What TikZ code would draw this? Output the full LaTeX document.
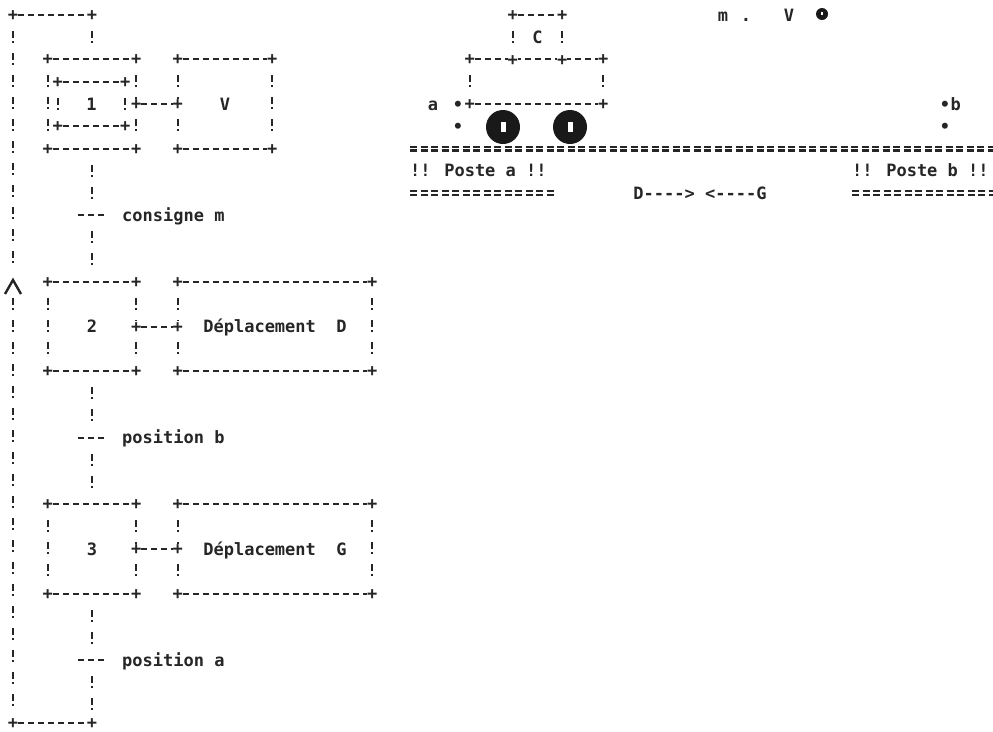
\documentclass[tikz,border=0pt]{standalone}
\usepackage{fontspec}
\usepackage{tikz}
\usetikzlibrary{positioning}
\newfontfamily\dotfont{DejaVu Sans Mono}

\begin{document}
\begin{tikzpicture}[x=1pt, y=-1pt,
    txt/.style = {text=black!85, font=\dotfont\bfseries\fontsize{17}{20}\selectfont,
                  inner sep=0pt, text height=12.4pt, text depth=0pt},
    joint/.style = {txt, fill=white, text height=11pt},
    hrule/.style = {draw=black!85, line width=2pt, dash pattern=on 6pt off 4pt,
                    shorten <=5pt, shorten >=5pt},
    tbar/.style = {draw=black!85, line width=2pt, dash pattern=on 6pt off 4pt},
    vrule/.style = {draw=black!85, line width=2pt, dash pattern=on 7pt off 3pt on 2pt off 10pt,
                    dash phase=12pt, shorten <=6pt, shorten >=10pt},
    rail/.style = {draw=black!85, line width=2.2pt, double, double distance=1.6pt,
                   dash pattern=on 7pt off 3.5pt},
    stepbox/.style = {txt, minimum width=88pt, minimum height=89pt},
    actbox/.style = {txt, minimum width=194pt, minimum height=89pt},
    wheel/.style = {circle, fill=black!90, inner sep=0pt, minimum size=34pt,
                    path picture={\fill[white] (path picture bounding box.center) ++(-2.5,-5) rectangle ++(5,10);}}
  ]
  \fill[white] (0,0) rectangle (993,731);
  \useasboundingbox (0,0) rectangle (993,731);

  % grafcet: steps and actions
  \node[stepbox] (s1) at (92,104) {};
  \node[txt, minimum width=67pt, minimum height=44.5pt] (s1in) at (91.5,104) {1};
  \node[txt, minimum width=94pt, minimum height=89pt] (v) at (225,104) {V};
  \node[stepbox] (s2) at (92,326.5) {2};
  \node[actbox] (d2) at (275,326.5) {Déplacement\ \ D};
  \node[stepbox] (s3) at (92,549) {3};
  \node[actbox] (d3) at (275,549) {Déplacement\ \ G};

  % transitions
  \coordinate (t1) at (92,215.25);
  \coordinate (t2) at (92,437.75);
  \coordinate (t3) at (92,660.25);
  \node[txt, right=30pt of t1] {consigne m};
  \node[txt, right=30pt of t2] {position b};
  \node[txt, right=30pt of t3] {position a};
  \foreach \t in {t1,t2,t3}
    \draw[tbar] ([xshift=-14pt]\t) -- ([xshift=14pt]\t);

  % loop back to the initial step
  \coordinate (tl) at (13,15);
  \coordinate (tr) at (92,15);
  \coordinate (bl) at (13,723);
  \coordinate (br) at (92,723);
  \coordinate (up) at (13,282);

  % box edges
  \foreach \b in {s1,s1in,v,s2,d2,s3,d3} {
    \draw[hrule] (\b.north west) -- (\b.north east);
    \draw[hrule] (\b.south west) -- (\b.south east);
    \draw[vrule] (\b.north west) -- (\b.south west);
    \draw[vrule] (\b.north east) -- (\b.south east);
  }

  % links
  \draw[vrule] (tr) -- (s1.north);
  \draw[vrule] (s1.south) -- (t1);
  \draw[vrule] (t1) -- (s2.north);
  \draw[vrule] (s2.south) -- (t2);
  \draw[vrule] (t2) -- (s3.north);
  \draw[vrule] (s3.south) -- (t3);
  \draw[vrule] (t3) -- (br);
  \draw[hrule] (tl) -- (tr);
  \draw[hrule] (bl) -- (br);
  \draw[vrule] (tl) -- (up);
  \draw[vrule] (up) -- (bl);
  \draw[draw=black!85, line width=2.4pt, line join=miter] (up) ++(-8,12) -- ++(8,-14) -- ++(8,14);
  \draw[hrule] (s1.east) -- (v.west);
  \draw[hrule] (s2.east) -- (d2.west);
  \draw[hrule] (s3.east) -- (d3.west);

  % the cart
  \node[txt, minimum width=49pt, minimum height=44.5pt] (cab) at (537.5,37.25) {C};
  \node[txt, minimum width=133pt, minimum height=44.5pt] (body) at (536.5,81.75) {};
  \draw[hrule] (cab.north west) -- (cab.north east);
  \draw[vrule] (cab.north west) -- (cab.south west);
  \draw[vrule] (cab.north east) -- (cab.south east);
  \draw[hrule] (body.north west) -- (body.north east);
  \draw[hrule] (body.south west) -- (body.south east);
  \draw[vrule] (body.north west) -- (body.south west);
  \draw[vrule] (body.north east) -- (body.south east);
  \node[wheel] (w1) at (503,127) {};
  \node[wheel] (w2) at (570,127) {};

  % corners
  \foreach \b in {s1,s1in,v,s2,d2,s3,d3,cab,body}
    \foreach \c in {north west,north east,south west,south east}
      \node[joint] at (\b.\c) {+};
  \foreach \p in {s1.east,v.west,s2.east,d2.west,s3.east,d3.west,tl,tr,bl,br}
    \node[joint] at (\p) {+};

  % track and stations
  \node[txt] (la) at (433,104) {a};
  \node[txt] (swa) at (458,104) {•};
  \node[txt] at (458,126.25) {•};
  \node[txt] (swb) at (945,104) {•};
  \node[txt, right=0pt of swb] {b};
  \node[txt] at (945,126.25) {•};
  \draw[rail] (410,148.5) -- (993,148.5);
  \node[txt, anchor=west] (pa) at (410,170.75) {!! Poste a !!};
  \draw[rail] (410,193) -- (555,193);
  \node[txt, anchor=west] (pb) at (852,170.75) {!! Poste b !!};
  \draw[rail] (852,193) -- (993,193);
  \node[txt] (dir) at (700,193) {D----> <----G};

  % start condition
  \node[txt] (cm) at (723,15) {m};
  \node[txt] at (746,15) {.};
  \node[txt] (cv) at (789,15) {V};
  \node[wheel, minimum size=12pt,
        path picture={\fill[white] (path picture bounding box.center) ++(-0.8,-2) rectangle ++(1.6,3);}]
        (cw) at (822,14) {};
\end{tikzpicture}
\end{document}
